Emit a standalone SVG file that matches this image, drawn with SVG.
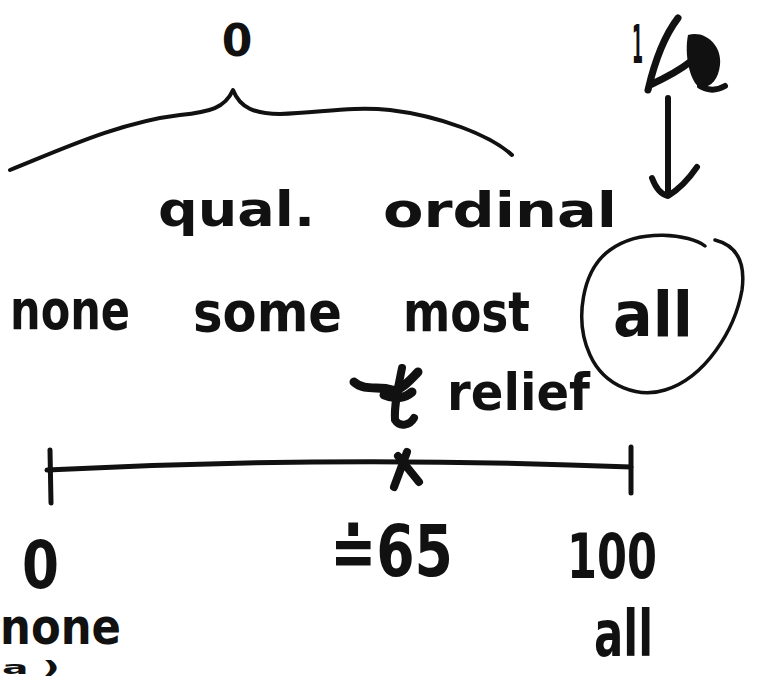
<svg xmlns="http://www.w3.org/2000/svg" width="767" height="677" viewBox="0 0 767 677">
  <style>
    .hand { font-family: "DejaVu Sans", "Liberation Sans", sans-serif; font-weight: bold; fill: #111; }
    .ink { fill: none; stroke: #111; stroke-linecap: round; stroke-linejoin: round; }
  </style>
  <rect width="767" height="677" fill="#fff"/>

  <!-- connectors: brace, arrow, circle, number line -->
  <g id="connectors">
    <path class="ink" stroke-width="4" d="M10,170 C60,150 120,122 180,115 C210,112 225,108 233,90 C240,108 255,114 280,114 C320,113 350,106 390,110 C440,116 490,135 512,155"/>
    <path class="ink" stroke-width="6" d="M668,98 L668,195"/>
    <path class="ink" stroke-width="6" d="M652,178 Q658,194 668,196 Q684,186 697,167"/>
    <path class="ink" stroke-width="3.5" d="M705,246 C690,234 640,228 610,250 C582,270 574,320 590,355 C605,388 640,398 665,390 C705,378 735,330 742,290 C746,260 735,245 715,240"/>
    <path class="ink" stroke-width="5" d="M47,470 Q340,455 631,467"/>
    <path class="ink" stroke-width="5" d="M50,450 L51,503"/>
    <path class="ink" stroke-width="5" d="M631,447 L631,493"/>
    <path class="ink" stroke-width="8" d="M407,452 L394,487 M398,456 L419,482"/>
  </g>

  <!-- top: zero over the brace -->
  <g id="top-zero">
    <text class="hand" x="237" y="56" font-size="44" text-anchor="middle">0</text>
  </g>

  <!-- top right: one with a crossed-out mark -->
  <g id="top-one">
    <text class="hand" x="632" y="63" font-size="54" font-weight="normal" textLength="11" lengthAdjust="spacingAndGlyphs">1</text>
    <path class="ink" stroke-width="7" d="M648,90 C655,60 665,35 678,18 M650,85 C665,78 680,70 690,62"/>
    <path fill="#111" d="M688,35 C705,30 722,45 720,65 C718,82 708,90 698,86 C690,80 684,55 688,35 Z"/>
    <path class="ink" stroke-width="6" d="M700,86 C710,92 718,90 725,86"/>
  </g>

  <g id="label-scale">
    <text class="hand" x="158" y="226" font-size="48" textLength="157" lengthAdjust="spacingAndGlyphs">qual.</text>
    <text class="hand" x="383" y="227" font-size="48" textLength="234" lengthAdjust="spacingAndGlyphs">ordinal</text>
  </g>

  <g id="categories">
    <text class="hand" x="10" y="329" font-size="56" textLength="120" lengthAdjust="spacingAndGlyphs">none</text>
    <text class="hand" x="193" y="331" font-size="56" textLength="149" lengthAdjust="spacingAndGlyphs">some</text>
    <text class="hand" x="403" y="331" font-size="56" textLength="127" lengthAdjust="spacingAndGlyphs">most</text>
    <text class="hand" x="613" y="336" font-size="62" textLength="80" lengthAdjust="spacingAndGlyphs">all</text>
  </g>

  <g id="relief">
    <path class="ink" stroke-width="9" d="M354,382 C365,392 380,385 392,390 C400,392 410,380 418,372 M384,395 C395,400 405,398 412,392"/>
    <path class="ink" stroke-width="8" d="M402,368 C398,388 394,405 395,420 C400,428 410,425 414,418"/>
    <text class="hand" x="447" y="410" font-size="52" textLength="143" lengthAdjust="spacingAndGlyphs">relief</text>
  </g>

  <g id="tick-labels">
    <text class="hand" x="22" y="588" font-size="66" textLength="37" lengthAdjust="spacingAndGlyphs">0</text>
    <text class="hand" x="330" y="576" font-size="72" textLength="123" lengthAdjust="spacingAndGlyphs">≐65</text>
    <text class="hand" x="567" y="578" font-size="62" textLength="90" lengthAdjust="spacingAndGlyphs">100</text>
  </g>

  <g id="end-labels">
    <text class="hand" x="0" y="644" font-size="50" textLength="121" lengthAdjust="spacingAndGlyphs">none</text>
    <text class="hand" x="2" y="674" font-size="18" textLength="58" lengthAdjust="spacingAndGlyphs">a )</text>
    <text class="hand" x="594" y="656" font-size="64" textLength="59" lengthAdjust="spacingAndGlyphs">all</text>
  </g>
</svg>
